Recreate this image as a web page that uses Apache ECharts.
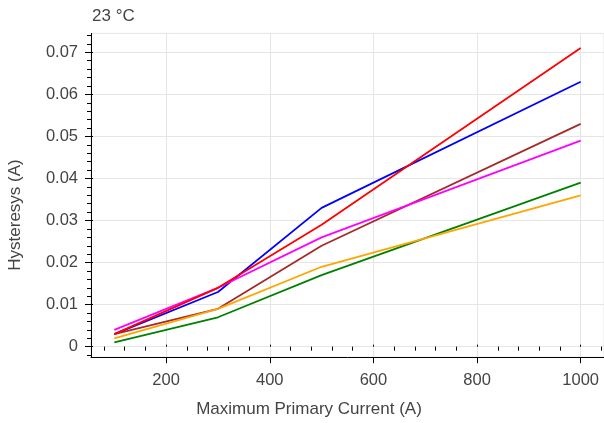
<!DOCTYPE html>
<html>
<head>
<meta charset="utf-8">
<script src="https://cdn.jsdelivr.net/npm/echarts@6/dist/echarts.min.js"></script>
<style>html,body{margin:0;padding:0;background:#fff}#c{width:604px;height:423px}</style>
</head>
<body>
<div id="c"></div>
<script>
const xValues = [100, 300, 500, 1000];
const redValues = [0.003, 0.014, 0.029, 0.071];
const blueValues = [0.003, 0.013, 0.033, 0.063];
const brownValues = [0.003, 0.009, 0.024, 0.053];
const magentaValues = [0.004, 0.014, 0.026, 0.049];
const greenValues = [0.001, 0.007, 0.017, 0.039];
const orangeValues = [0.002, 0.009, 0.019, 0.036];
const xTicks = [200, 400, 600, 800, 1000];
const yTicks = [0, 0.01, 0.02, 0.03, 0.04, 0.05, 0.06, 0.07];
const xMinorTicks = [80, 120, 160, 240, 280, 320, 360, 440, 480, 520, 560, 640, 680, 720, 760, 840, 880, 920, 960, 1040];
const yMinorTicks = [-0.002, 0.002, 0.004, 0.006, 0.008, 0.012, 0.014, 0.016, 0.018, 0.022, 0.024, 0.026, 0.028, 0.032, 0.034, 0.036, 0.038, 0.042, 0.044, 0.046, 0.048, 0.052, 0.054, 0.056, 0.058, 0.062, 0.064, 0.066, 0.068, 0.072, 0.074];
const titleText = '23 °C';
const xName = 'Maximum Primary Current (A)';
const yName = 'Hysteresys (A)';

const XMIN = 55, XMAX = 1045, YMIN = -0.0025, YMAX = 0.0745;
const FONT = '"Liberation Sans", Arial, sans-serif';
const gridRect = {left: 91, right: -3, top: 33.4, bottom: 65.8, containLabel: false};

function pairs(vals) { return xValues.map((x, i) => [x, vals[i]]); }
function line(name, vals, color) {
  return {
    name, type: 'line', data: pairs(vals), xAxisIndex: 0, yAxisIndex: 0,
    showSymbol: false, symbol: 'none', silent: true, animation: false,
    lineStyle: {color, width: 1.8}, itemStyle: {color}
  };
}
function baseX(gridIndex, extra) {
  return Object.assign({
    type: 'value', gridIndex, min: XMIN, max: XMAX, position: 'bottom',
    axisLine: {show: false}, splitLine: {show: false}, axisLabel: {show: false},
    axisTick: {show: false}
  }, extra);
}
function baseY(gridIndex, extra) {
  return Object.assign({
    type: 'value', gridIndex, min: YMIN, max: YMAX, position: 'left',
    axisLine: {show: false}, splitLine: {show: false}, axisLabel: {show: false},
    axisTick: {show: false}
  }, extra);
}

const chart = echarts.init(document.getElementById('c'), null, {renderer: 'canvas'});
chart.setOption({
  animation: false,
  backgroundColor: '#fff',
  grid: [
    Object.assign({show: true, borderColor: '#e5e5e5', borderWidth: 1, backgroundColor: 'transparent'}, gridRect),
    Object.assign({}, gridRect),
    Object.assign({}, gridRect)
  ],
  xAxis: [
    baseX(0, {
      axisLine: {show: true, onZero: false, lineStyle: {color: '#000', width: 1}},
      axisTick: {show: true, customValues: xTicks, length: 6, lineStyle: {color: '#000', width: 1}},
      axisLabel: {show: true, customValues: xTicks, color: '#444', fontSize: 16.5, fontFamily: FONT, margin: 15,
        formatter: v => String(v)},
      splitLine: {show: true, lineStyle: {color: '#e5e5e5', width: 1}}
    }),
    baseX(1, {axisTick: {show: true, customValues: xMinorTicks, length: 4, lineStyle: {color: '#000', width: 1}}}),
    baseX(2, {axisTick: {show: true, inside: true, customValues: xTicks, length: 2, lineStyle: {color: '#000', width: 1}}})
  ],
  yAxis: [
    baseY(0, {
      axisLine: {show: true, onZero: false, lineStyle: {color: '#000', width: 1}},
      axisTick: {show: true, customValues: yTicks, length: 6, lineStyle: {color: '#000', width: 1}},
      axisLabel: {show: true, customValues: yTicks, color: '#444', fontSize: 16.5, fontFamily: FONT, margin: 13,
        formatter: v => (v === 0 ? '0' : v.toFixed(2))},
      splitLine: {show: true, lineStyle: {color: '#e5e5e5', width: 1}}
    }),
    baseY(1, {axisTick: {show: true, customValues: yMinorTicks, length: 4, lineStyle: {color: '#000', width: 1}}}),
    baseY(2, {axisTick: {show: true, inside: true, customValues: yTicks, length: 2, lineStyle: {color: '#000', width: 1}}})
  ],
  graphic: [
    {type: 'text', left: 92, top: 8, style: {text: titleText, fill: '#444', font: '17px ' + FONT}},
    {type: 'text', x: 309, y: 409, style: {text: xName, fill: '#444', font: '17px ' + FONT, align: 'center', verticalAlign: 'middle'}},
    {type: 'text', x: 15, y: 215, rotation: Math.PI / 2, style: {text: yName, fill: '#444', font: '17px ' + FONT, align: 'center', verticalAlign: 'middle'}}
  ],
  series: [
    line('Blue', blueValues, '#0000ff'),
    line('Brown', brownValues, '#a52a2a'),
    line('Green', greenValues, '#008000'),
    line('Orange', orangeValues, '#ffa500'),
    line('Magenta', magentaValues, '#ff00ff'),
    line('Red', redValues, '#ff0000')
  ]
});
</script>
</body>
</html>
